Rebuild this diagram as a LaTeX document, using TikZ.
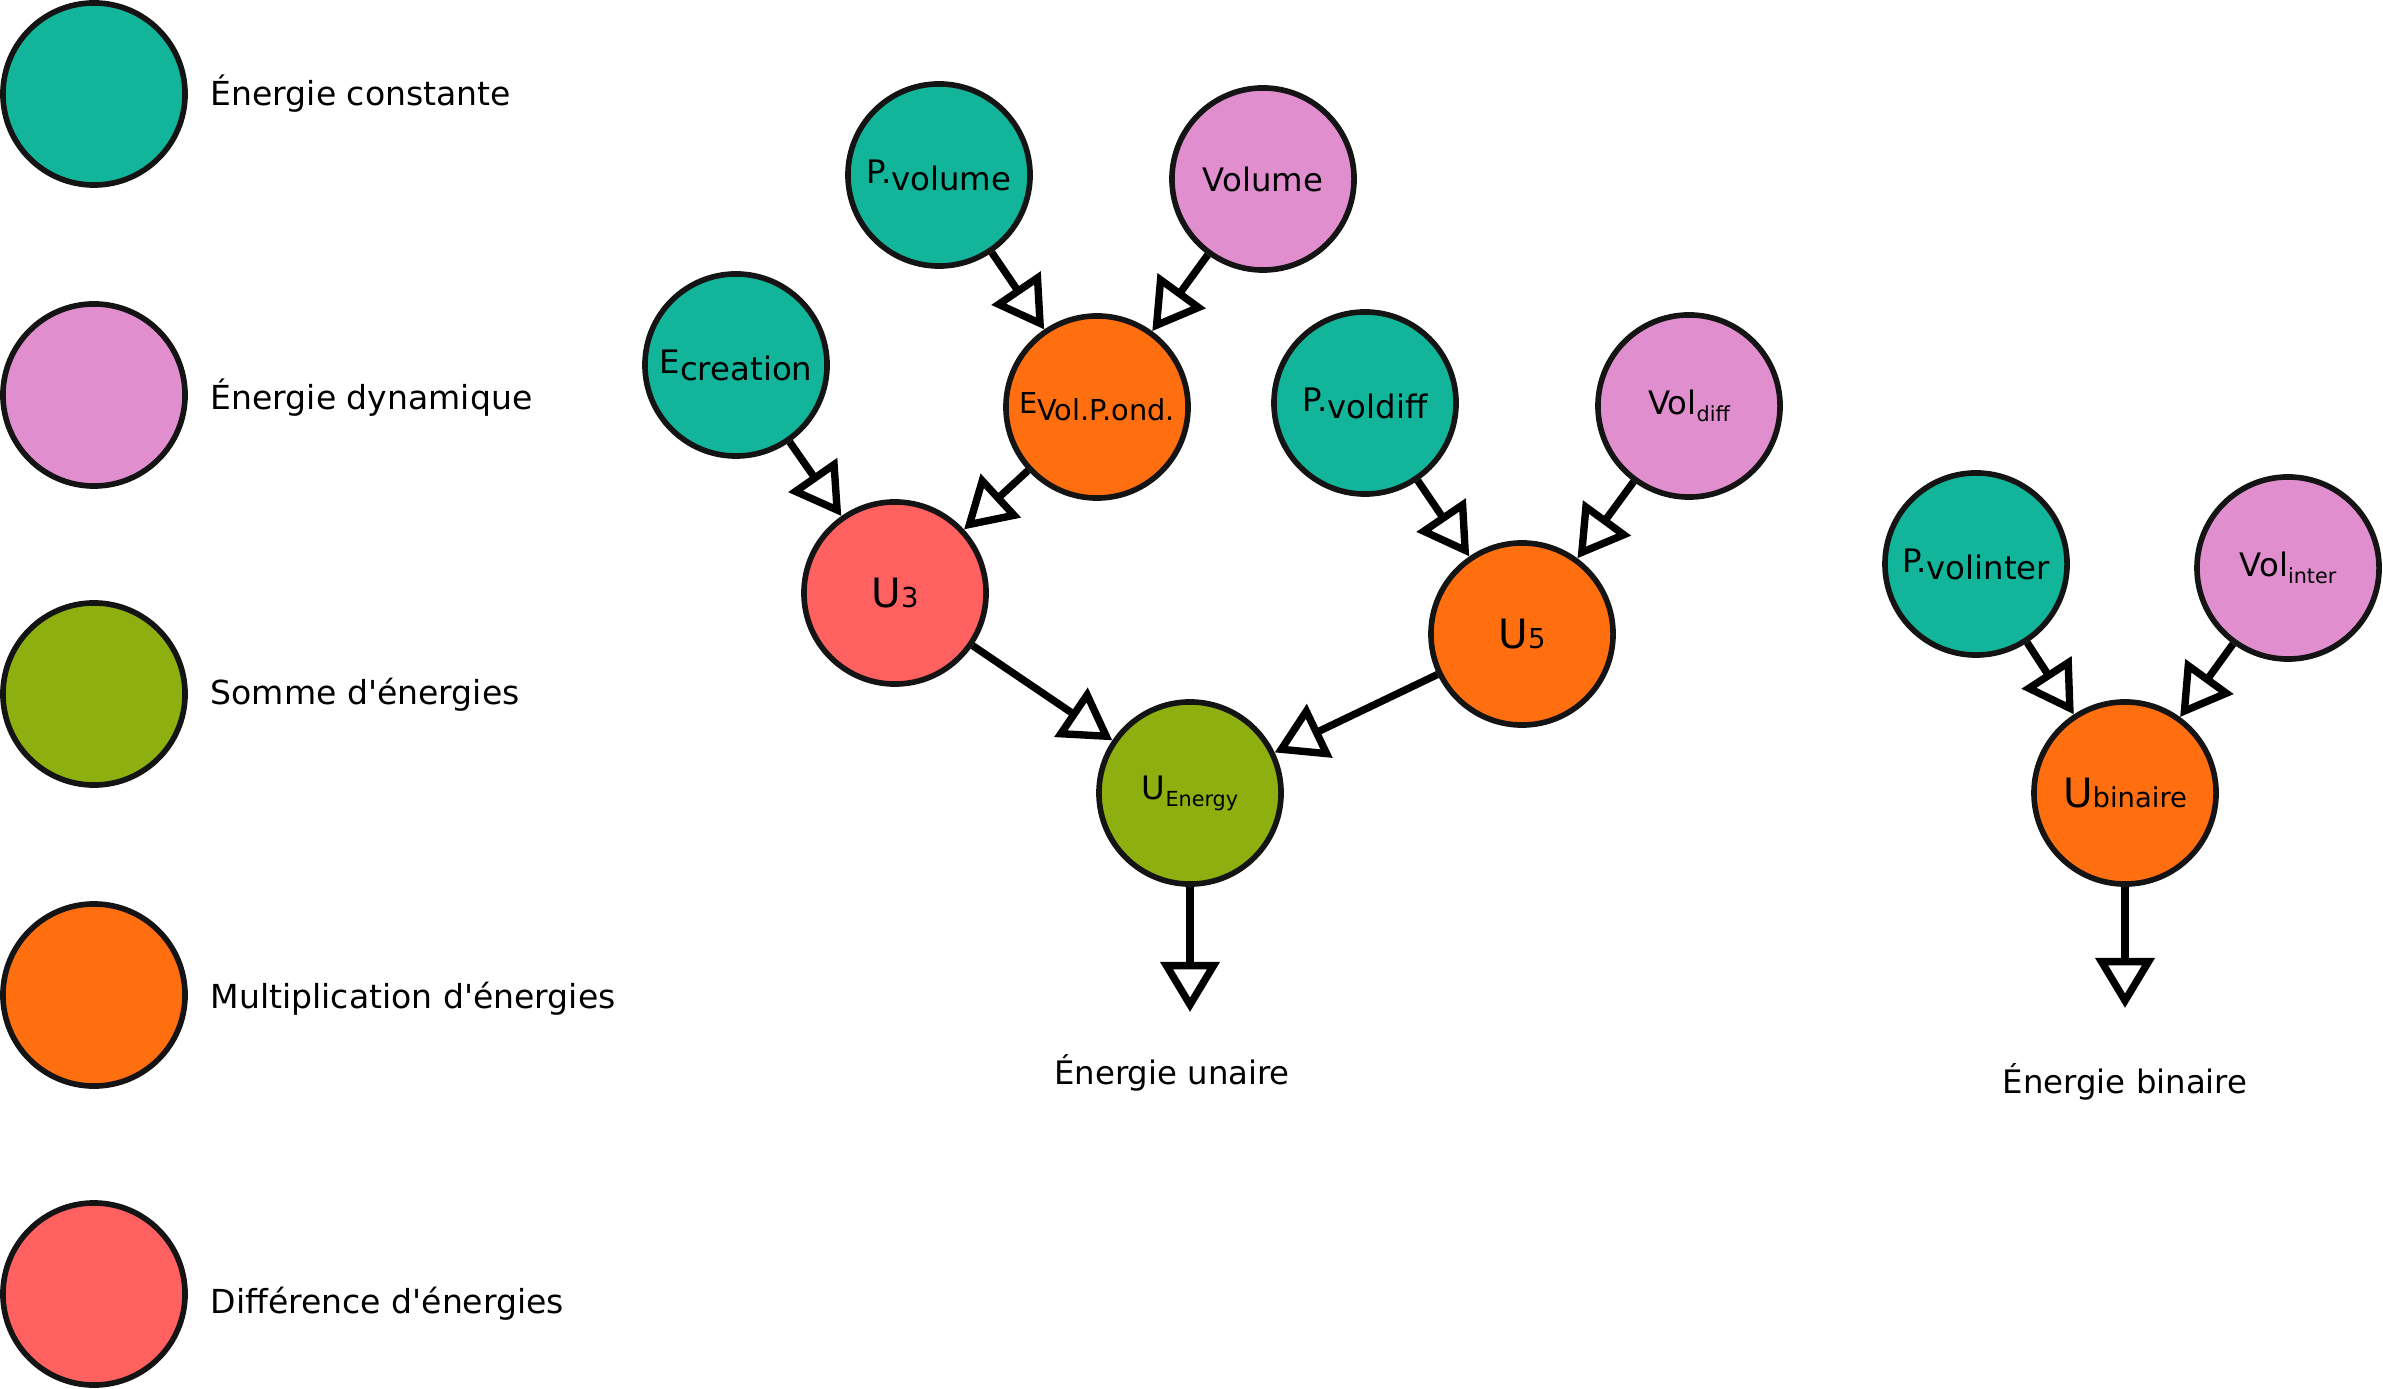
\documentclass[tikz,border=0pt]{standalone}
\usepackage{fontspec}
\setmainfont{DejaVu Sans}[Ligatures=TeXOff]
\usetikzlibrary{arrows.meta,positioning}
\definecolor{cstcol}{HTML}{12B59A}
\definecolor{dyncol}{HTML}{E08ECE}
\definecolor{somcol}{HTML}{8DAF0F}
\definecolor{mulcol}{HTML}{FF6F10}
\definecolor{difcol}{HTML}{FF6060}
\definecolor{bordcol}{HTML}{141414}
\newcommand{\lowpart}[1]{\raisebox{-2pt}{#1}}
\newcommand{\smallsub}[1]{\raisebox{-2pt}{\fontsize{5.9}{6}\selectfont #1}}
\newcommand{\bigU}[1]{{\fontsize{11.5}{12}\selectfont U}{\fontsize{7.8}{9}\selectfont #1}}
\begin{document}
\begin{tikzpicture}[x=0.01cm, y=-0.01cm, font=\fontsize{9.2}{11}\selectfont]
\tikzstyle{energy} = [circle, draw=bordcol, line width=1.6pt, minimum size=1.82cm, inner sep=0pt]
\tikzstyle{flow} = [line width=2.1pt, -{Triangle[open, length=0.5cm, width=0.58cm]}]
\tikzstyle{legtext} = [anchor=west, inner sep=0pt, font=\fontsize{9.4}{11}\selectfont]
\useasboundingbox (0,0) rectangle (2383,1389);
% legende
\node (lcst)[energy, fill=cstcol] at (94,94) {};
\node (ldyn)[energy, fill=dyncol] at (94,395) {};
\node (lsom)[energy, fill=somcol] at (94,694) {};
\node (lmul)[energy, fill=mulcol] at (94,995) {};
\node (ldif)[energy, fill=difcol] at (94,1294) {};
\node (tcst)[legtext] at (210,94) {Énergie constante};
\node (tdyn)[legtext] at (210,398) {Énergie dynamique};
\node (tsom)[legtext] at (210,695) {Somme d'énergies};
\node (tmul)[legtext] at (210,999) {Multiplication d'énergies};
\node (tdif)[legtext] at (210,1304) {Différence d'énergies};
% energie unaire
\node (ecr)[energy, fill=cstcol] at (736,365) {E\lowpart{creation}};
\node (pvol)[energy, fill=cstcol] at (939,175) {P.\lowpart{volume}};
\node (vol)[energy, fill=dyncol] at (1263,179) {Volume};
\node (evp)[energy, fill=mulcol] at (1097,407) {\fontsize{8.2}{10}\selectfont E\lowpart{Vol.P.ond.}};
\node (u3)[energy, fill=difcol] at (895,593) {\bigU{3}};
\node (pvd)[energy, fill=cstcol] at (1365,403) {P.\lowpart{voldiff}};
\node (vdiff)[energy, fill=dyncol] at (1689,406) {Vol\smallsub{diff}};
\node (u5)[energy, fill=mulcol] at (1522,634) {\bigU{5}};
\node (uen)[energy, fill=somcol] at (1190,793) {U\smallsub{Energy}};
\coordinate (outun) at (1190,1012);
\node (tun) at (1172,1073) {Énergie unaire};
% energie binaire
\node (pvi)[energy, fill=cstcol] at (1976,564) {P.\lowpart{volinter}};
\node (vinter)[energy, fill=dyncol] at (2288,568) {Vol\smallsub{inter}};
\node (ubin)[energy, fill=mulcol] at (2125,793) {\bigU{binaire}};
\coordinate (outbin) at (2125,1008);
\node (tbin) at (2125,1082) {Énergie binaire};
\draw [flow] (pvol) -- (evp);
\draw [flow] (vol) -- (evp);
\draw [flow] (ecr) -- (u3);
\draw [flow] (evp) -- (u3);
\draw [flow] (pvd) -- (u5);
\draw [flow] (vdiff) -- (u5);
\draw [flow] (u3) -- (uen);
\draw [flow] (u5) -- (uen);
\draw [flow] (uen) -- (outun);
\draw [flow] (pvi) -- (ubin);
\draw [flow] (vinter) -- (ubin);
\draw [flow] (ubin) -- (outbin);
\end{tikzpicture}
\end{document}
